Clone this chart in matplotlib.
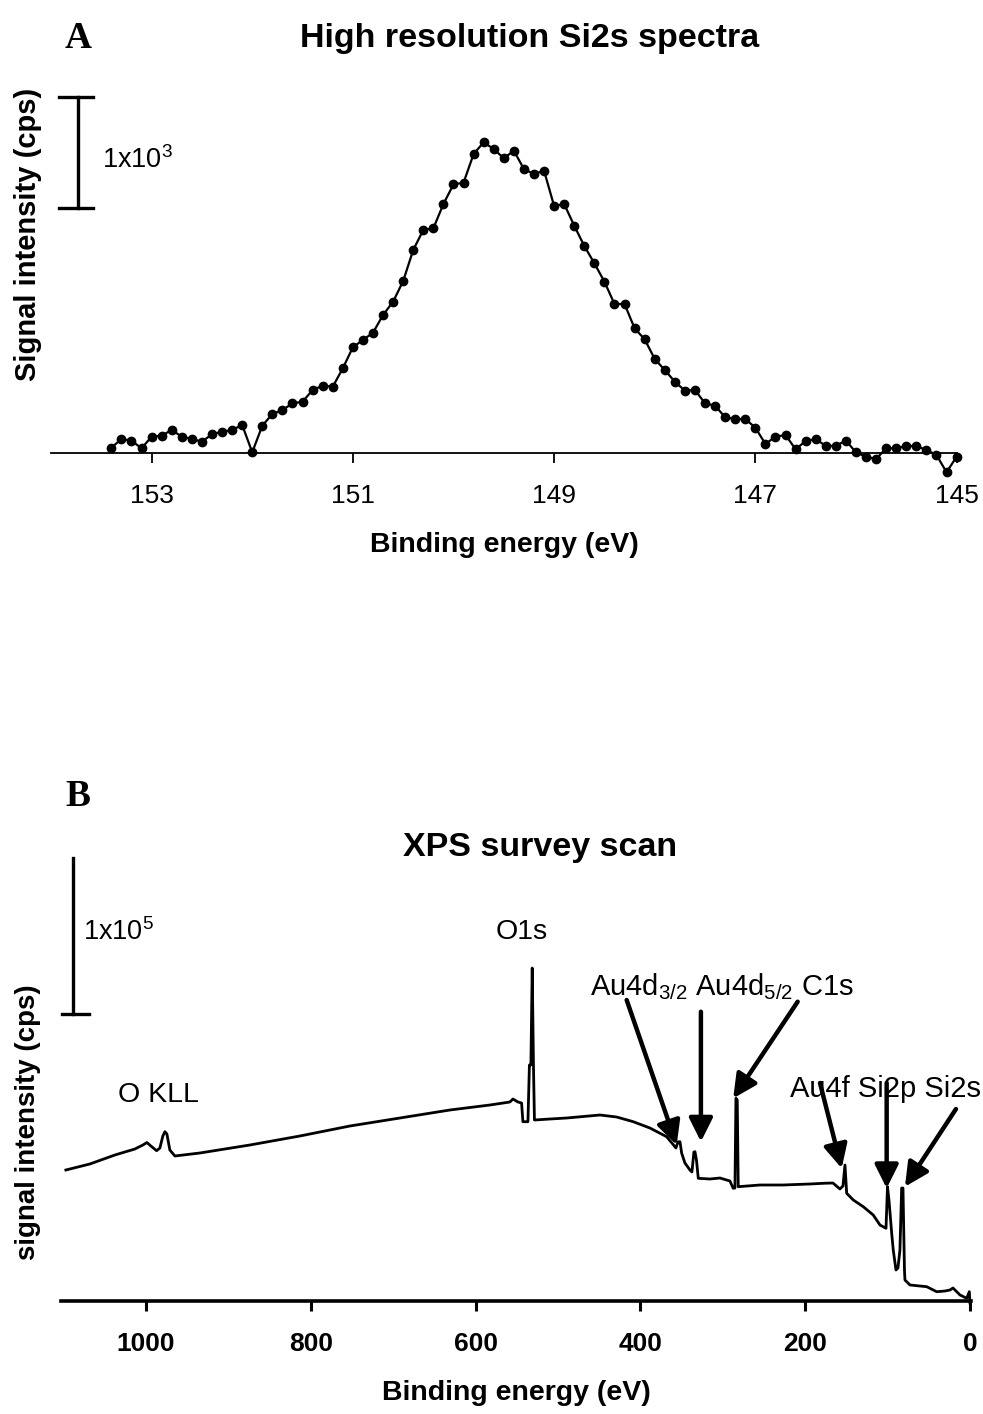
import numpy as np
import matplotlib
matplotlib.use('Agg')
import matplotlib.pyplot as plt

plt.rcParams['font.family'] = ['Liberation Sans', 'DejaVu Sans']
plt.rcParams['mathtext.default'] = 'regular'

# ---------------- Panel A data: high resolution Si2s (cps above baseline) ----------------
si2s_energy = [153.4, 153.3, 153.2, 153.1, 153.0, 152.9, 152.8, 152.7, 152.6, 152.5,
               152.4, 152.3, 152.2, 152.1, 152.0, 151.9, 151.8, 151.7, 151.6, 151.5,
               151.4, 151.3, 151.2, 151.1, 151.0, 150.9, 150.8, 150.7, 150.6, 150.5,
               150.4, 150.3, 150.2, 150.1, 150.0, 149.9, 149.8, 149.7, 149.6, 149.5,
               149.4, 149.3, 149.2, 149.1, 149.0, 148.9, 148.8, 148.7, 148.6, 148.5,
               148.4, 148.3, 148.2, 148.1, 148.0, 147.9, 147.8, 147.7, 147.6, 147.5,
               147.4, 147.3, 147.2, 147.1, 147.0, 146.9, 146.8, 146.7, 146.6, 146.5,
               146.4, 146.3, 146.2, 146.1, 146.0, 145.9, 145.8, 145.7, 145.6, 145.5,
               145.4, 145.3, 145.2, 145.1, 145.0]
si2s_counts = [50, 129, 114, 45, 150, 159, 210, 150, 129, 105,
               171, 195, 210, 255, 9, 249, 354, 390, 450, 465,
               570, 609, 600, 766, 955, 1021, 1086, 1246, 1366, 1552,
               1832, 2012, 2027, 2246, 2423, 2438, 2696, 2802, 2741, 2658,
               2726, 2561, 2516, 2546, 2228, 2246, 2050, 1868, 1712, 1546,
               1345, 1345, 1126, 1027, 850, 750, 645, 564, 570, 450,
               429, 324, 309, 309, 231, 84, 150, 165, 36, 111,
               129, 66, 68, 114, 9, -31, -51, 45, 45, 66,
               66, 30, -15, -171, -31]
si2s_ticks = [153, 151, 149, 147, 145]

# ---------------- Panel B data: XPS survey scan ----------------
survey_energy = [1097.1, 1068.0, 1037.6, 1013.4, 1003.6, 998.8, 993.9, 987.0, 983.0, 979.4,
                 976.9, 974.5, 970.9, 964.8, 934.5, 873.8, 813.1, 752.4, 691.8, 631.1,
                 582.5, 558.3, 554.6, 548.5, 544.1, 542.5, 536.4, 534.6, 532.8, 531.2,
                 529.7, 528.5, 509.7, 489.5, 449.0, 428.8, 408.6, 388.4, 368.1, 361.7,
                 356.8, 354.4, 351.9, 349.9, 345.9, 339.8, 337.4, 335.0, 333.7, 331.9,
                 329.7, 315.5, 303.4, 291.3, 287.3, 285.2, 284.0, 282.4, 281.2, 254.9,
                 226.9, 194.2, 178.0, 166.3, 157.8, 154.1, 151.7, 149.6, 141.6, 129.5,
                 117.4, 109.2, 101.9, 100.1, 98.3, 95.0, 93.1, 89.8, 87.4, 85.0,
                 82.9, 81.3, 79.5, 78.9, 72.8, 52.5, 40.4, 30.3, 24.3, 20.6,
                 12.1, 4.0, 0.8, 0.0]
survey_counts = [83970, 87820, 93590, 97430, 100000, 101600, 99360, 96340, 98070, 105770,
                 108520, 107050, 96790, 92950, 94870, 100000, 105770, 112180, 117300, 122430,
                 125640, 127560, 129480, 127560, 126920, 114930, 114930, 151280, 151280, 213450,
                 151280, 116020, 116660, 117300, 119230, 117940, 114930, 110890, 105320, 101280,
                 98070, 101920, 102110, 94870, 88460, 83970, 82690, 95510, 95700, 90380,
                 78650, 78200, 78840, 76920, 72240, 72430, 129930, 128840, 73270, 74360,
                 74360, 75000, 75450, 75640, 71790, 73720, 87180, 69040, 64740, 60450,
                 55130, 48720, 46600, 73270, 64740, 43400, 32690, 19870, 21150, 32690,
                 72430, 72430, 19870, 13460, 10260, 9170, 5960, 6410, 7050, 8330,
                 3850, 1730, 5960, -1280]
survey_ticks = [1000, 800, 600, 400, 200, 0]

# arrows (tail -> tip) pointing at labelled peaks
arrow_tails = [(416.6, 192940), (326.5, 185440), (209.1, 191850),
               (182.0, 139740), (101.1, 139740), (17.0, 123070)]
arrow_tips = [(355.9, 100000), (326.5, 102110), (287.3, 129930),
              (155.7, 85060), (101.1, 72240), (78.9, 73270)]

W, H = 983, 1414
fig = plt.figure(figsize=(W / 100, H / 100), dpi=100)
fig.patch.set_facecolor('white')


def px_rect(x0, y0, x1, y1):
    return [x0 / W, 1 - y1 / H, (x1 - x0) / W, (y1 - y0) / H]


def fpos(x, y):
    return x / W, 1 - y / H


# ================= Panel A =================
axA = fig.add_axes(px_rect(51, 85, 956.6, 480))
axA.plot(si2s_energy, si2s_counts, '-o', color='black', lw=1.6, ms=6,
         clip_on=False, zorder=3)
axA.set_xlim(154.0, 145.0)
axA.set_ylim(-240.5, 3318)
for s in ['left', 'top', 'right']:
    axA.spines[s].set_visible(False)
axA.spines['bottom'].set_position(('data', 0))
axA.spines['bottom'].set_linewidth(1.3)
axA.set_yticks([])
axA.set_xticks(si2s_ticks)
axA.set_xticklabels([str(t) for t in si2s_ticks])
axA.tick_params(axis='x', direction='out', length=7, width=1.3, pad=15, labelsize=19)
axA.patch.set_alpha(0)

# scale bar 1x10^3
axA.plot([153.73, 153.73], [2213, 3213], color='black', lw=2.4, clip_on=False)
axA.plot([153.92, 153.58], [3213, 3213], color='black', lw=2.4, clip_on=False)
axA.plot([153.92, 153.58], [2213, 2213], color='black', lw=2.4, clip_on=False)
axA.text(153.49, 2642, r'1x10$^{3}$', fontsize=19.5, ha='left', va='center')

fig.text(*fpos(78, 38), 'A', family='Liberation Serif', fontweight='bold',
         fontsize=27, ha='center', va='center')
fig.text(*fpos(530, 38), 'High resolution Si2s spectra', fontweight='bold',
         fontsize=24.5, ha='center', va='center')
fig.text(*fpos(504, 545), 'Binding energy (eV)', fontweight='bold',
         fontsize=20.5, ha='center', va='center')
fig.text(*fpos(28, 234), 'Signal intensity (cps)', fontweight='bold',
         fontsize=21, ha='center', va='center', rotation=90)

# ================= Panel B =================
axB = fig.add_axes(px_rect(61, 850, 970.8, 1306))
axB.plot(survey_energy, survey_counts, color='black', lw=2.0, clip_on=False, zorder=3)
axB.set_xlim(1103, -1)
axB.set_ylim(-3205, 289100)
for s in ['left', 'top', 'right']:
    axB.spines[s].set_visible(False)
axB.spines['bottom'].set_position(('data', 0))
axB.spines['bottom'].set_linewidth(2.6)
axB.set_yticks([])
axB.set_xticks(survey_ticks)
axB.set_xticklabels([str(t) for t in survey_ticks])
axB.tick_params(axis='x', direction='out', length=7, width=2.2, pad=15, labelsize=19)
for lab in axB.get_xticklabels():
    lab.set_fontweight('bold')
axB.patch.set_alpha(0)

# scale bar 1x10^5
axB.plot([1088.2, 1088.2], [183970, 283970], color='black', lw=2.4, clip_on=False)
axB.plot([1102, 1069.2], [183970, 183970], color='black', lw=2.4, clip_on=False)
axB.text(1076.5, 236540, r'1x10$^{5}$', fontsize=19.5, ha='left', va='center')

# peak labels
axB.text(984.2, 132050, 'O KLL', fontsize=20.5, ha='center', va='center')
axB.text(543.7, 236540, 'O1s', fontsize=20.5, ha='center', va='center')
axB.text(461.2, 196150, r'Au4d$_{3/2}$ Au4d$_{5/2}$ C1s', fontsize=21,
         ha='left', va='baseline')
axB.text(218.4, 130960, 'Au4f Si2p Si2s', fontsize=21, ha='left', va='baseline')

for tail, tip in zip(arrow_tails, arrow_tips):
    axB.annotate('', xy=tip, xytext=tail,
                 arrowprops=dict(arrowstyle='-|>,head_length=0.42,head_width=0.21',
                                 color='black', lw=3.2, mutation_scale=34,
                                 shrinkA=0, shrinkB=0),
                 annotation_clip=False)

fig.text(*fpos(78, 796), 'B', family='Liberation Serif', fontweight='bold',
         fontsize=27, ha='center', va='center')
fig.text(*fpos(540, 848), 'XPS survey scan', fontweight='bold',
         fontsize=24.5, ha='center', va='center')
fig.text(*fpos(516, 1393), 'Binding energy (eV)', fontweight='bold',
         fontsize=20.5, ha='center', va='center')
fig.text(*fpos(28, 1122), 'signal intensity (cps)', fontweight='bold',
         fontsize=20, ha='center', va='center', rotation=90)

fig.savefig('out.png', dpi=100, facecolor='white')
